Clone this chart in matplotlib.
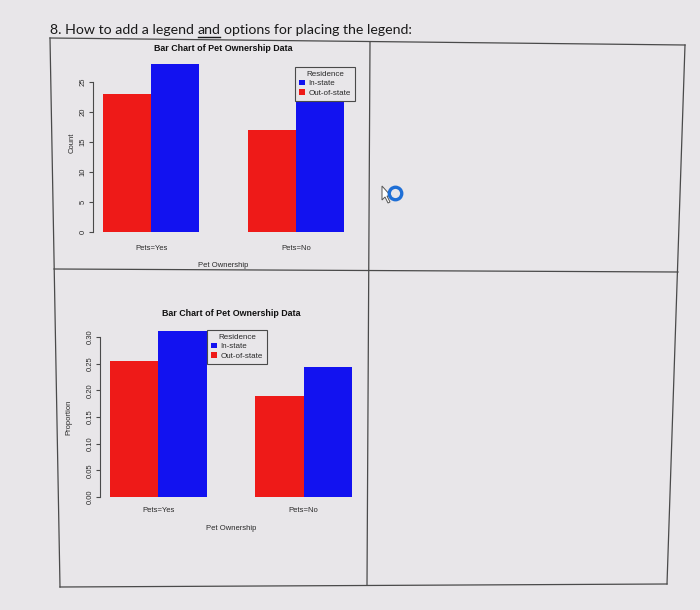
import matplotlib
matplotlib.use('Agg')
import matplotlib.pyplot as plt
from matplotlib.lines import Line2D
from matplotlib.patches import Patch, Polygon
import numpy as np

# ---------------- data ----------------
categories = ['Pets=Yes', 'Pets=No']
residence_labels = ['In-state', 'Out-of-state']
counts_out_of_state = [23, 17]
counts_in_state = [28, 22]
count_ticks = [0, 5, 10, 15, 20, 25]
count_tick_labels = ['0', '5', '10', '15', '20', '25']
prop_ticks = [0.00, 0.05, 0.10, 0.15, 0.20, 0.25, 0.30]
prop_tick_labels = ['0.00', '0.05', '0.10', '0.15', '0.20', '0.25', '0.30']
heading_parts = ['8. How to add a legend', 'and', 'options for placing the legend:']
chart_title = 'Bar Chart of Pet Ownership Data'
x_label = 'Pet Ownership'

# ---------------- style ----------------
BG = '#e8e6e9'
RED = '#ee1a18'
BLUE = '#1212f0'
INK = '#2a2a2a'
LINE = '#4a4a4a'
W, H = 700, 610
FONT = ['Liberation Sans', 'DejaVu Sans']

plt.rcParams['font.family'] = FONT

fig = plt.figure(figsize=(7, 6.1), dpi=100, facecolor=BG)


def fx(px):
    return px / W


def fy(py):
    return 1 - py / H


def rect(l, t, r, b):
    return [fx(l), fy(b), (r - l) / W, (b - t) / H]


# ---------------- table lines (document grid) ----------------
def seg(p0, p1):
    fig.add_artist(Line2D([fx(p0[0]), fx(p1[0])], [fy(p0[1]), fy(p1[1])],
                          color=LINE, lw=0.9, transform=fig.transFigure))

TL, TR, BL, BR = (50, 38), (685, 45), (60, 587), (667, 584)
seg(TL, TR); seg(BL, BR); seg(TL, BL); seg(TR, BR)
seg((54, 269), (678, 272))        # middle horizontal
seg((370, 42), (367, 585))        # middle vertical


# ---------------- bar panels ----------------
def panel(box, out_vals, in_vals, ticks, ticklabels, ylabel, ylab_xy,
          title_y, xt_pad, xl_y, leg_loc, leg_anchor):
    ax = fig.add_axes(rect(*box))
    ax.set_facecolor('none')
    n = len(categories)
    starts = 1 + 3 * np.arange(n)
    ax.bar(starts + 0.5, out_vals, width=1.0, color=RED, edgecolor='none')
    ax.bar(starts + 1.5, in_vals, width=1.0, color=BLUE, edgecolor='none')
    top = max(max(out_vals), max(in_vals))
    ax.set_xlim(1 - 0.2, 3 * n + 0.2)
    ax.set_ylim(-0.04 * top, 1.04 * top)
    for s in ['top', 'right', 'bottom']:
        ax.spines[s].set_visible(False)
    ax.spines['left'].set_bounds(ticks[0], ticks[-1])
    ax.spines['left'].set_color(LINE)
    ax.spines['left'].set_linewidth(0.8)
    ax.set_yticks(ticks)
    ax.set_yticklabels(ticklabels, rotation=90, va='center', fontsize=5.5, color=INK)
    ax.tick_params(axis='y', length=3, width=0.8, color=LINE, pad=2)
    ax.set_xticks(starts + 1.0)
    ax.set_xticklabels(categories, fontsize=5.5, color=INK)
    ax.tick_params(axis='x', length=0, pad=xt_pad)
    ax.text(0.5, title_y, chart_title, transform=ax.transAxes, ha='center',
            va='center', fontsize=6.4, fontweight='bold', color='#111111')
    ax.text(0.5, xl_y, x_label, transform=ax.transAxes, ha='center',
            va='center', fontsize=5.5, color=INK)
    ax.text(ylab_xy[0], ylab_xy[1], ylabel, transform=ax.transAxes, ha='center',
            va='center', rotation=90, fontsize=5.5, color=INK)
    handles = [Patch(facecolor=BLUE, edgecolor='none', label=residence_labels[0]),
               Patch(facecolor=RED, edgecolor='none', label=residence_labels[1])]
    leg = fig.legend(handles=handles, title='Residence', loc=leg_loc,
                     bbox_to_anchor=(fx(leg_anchor[0]), fy(leg_anchor[1])),
                     bbox_transform=fig.transFigure, fontsize=5.8,
                     title_fontsize=5.8, frameon=True, fancybox=False,
                     edgecolor=LINE, facecolor=BG, framealpha=1,
                     handlelength=0.7, handleheight=0.7, handletextpad=0.5,
                     labelspacing=0.2, borderpad=0.5, borderaxespad=0)
    leg.get_frame().set_linewidth(0.8)
    for t in leg.get_texts():
        t.set_color(INK)
    leg.get_title().set_color(INK)
    return ax


total = sum(counts_out_of_state) + sum(counts_in_state)
prop_out = [v / total for v in counts_out_of_state]
prop_in = [v / total for v in counts_in_state]

panel((93.3, 57.3, 353.7, 238.7), counts_out_of_state, counts_in_state,
      count_ticks, count_tick_labels, 'Count', (-0.082, 0.528),
      1 + 9 / 181.4, 4.5, -27 / 181.4, 'upper right', (355, 67))

panel((100.3, 324.4, 361.7, 503.6), prop_out, prop_in,
      prop_ticks, prop_tick_labels, 'Proportion', (-0.12, 0.483),
      1 + 11 / 179.2, 2.5, -24.4 / 179.2, 'upper left', (207, 330))

# ---------------- heading with underlined word ----------------
HFONT = ['Lato', 'DejaVu Sans']
hs = 10.2
x0, yb = fx(50), fy(34)
renderer = fig.canvas.get_renderer()
fig.text(x0, yb, heading_parts[0], fontsize=hs, family=HFONT,
         va='baseline', ha='left', color='#1a1a1a')
probe = fig.text(x0, yb, heading_parts[0] + ' ' + heading_parts[1], fontsize=hs,
                 family=HFONT, va='baseline', ha='left', alpha=0)
w_probe = probe.get_window_extent(renderer).width
tw = fig.text(0, yb, heading_parts[1], fontsize=hs, family=HFONT,
              va='baseline', ha='left', color='#1a1a1a')
w_and = tw.get_window_extent(renderer).width
x_and = x0 + (w_probe - w_and) / W
tw.set_x(x_and)
probe.remove()
probe2 = fig.text(x0, yb, heading_parts[0] + ' ' + heading_parts[1] + ' o', fontsize=hs,
                  family=HFONT, va='baseline', ha='left', alpha=0)
w2 = probe2.get_window_extent(renderer).width
probe3 = fig.text(0, yb, 'o', fontsize=hs, family=HFONT, va='baseline', alpha=0)
wo = probe3.get_window_extent(renderer).width
probe2.remove(); probe3.remove()
fig.text(x0 + (w2 - wo) / W, yb, heading_parts[2], fontsize=hs, family=HFONT,
         va='baseline', ha='left', color='#1a1a1a')
fig.add_artist(Line2D([x_and, x_and + w_and / W], [fy(37), fy(37)], color='#1a1a1a',
                      lw=1.0, transform=fig.transFigure))

# ---------------- cursor decoration ----------------
fig.add_artist(Line2D([fx(395.5)], [fy(192.7)], marker='o', ms=9, mfc='none',
                      mec='#1f6fd6', mew=2.4, transform=fig.transFigure))
cur = np.array([(382, 186), (382, 200), (385, 197), (388, 203), (390, 202),
                (387, 196), (391, 196)])
fig.add_artist(Polygon(np.c_[fx(cur[:, 0]), fy(cur[:, 1])], closed=True,
                       facecolor='white', edgecolor='#555555', lw=0.7,
                       transform=fig.transFigure))

fig.savefig('out.png', dpi=100, facecolor=BG)
